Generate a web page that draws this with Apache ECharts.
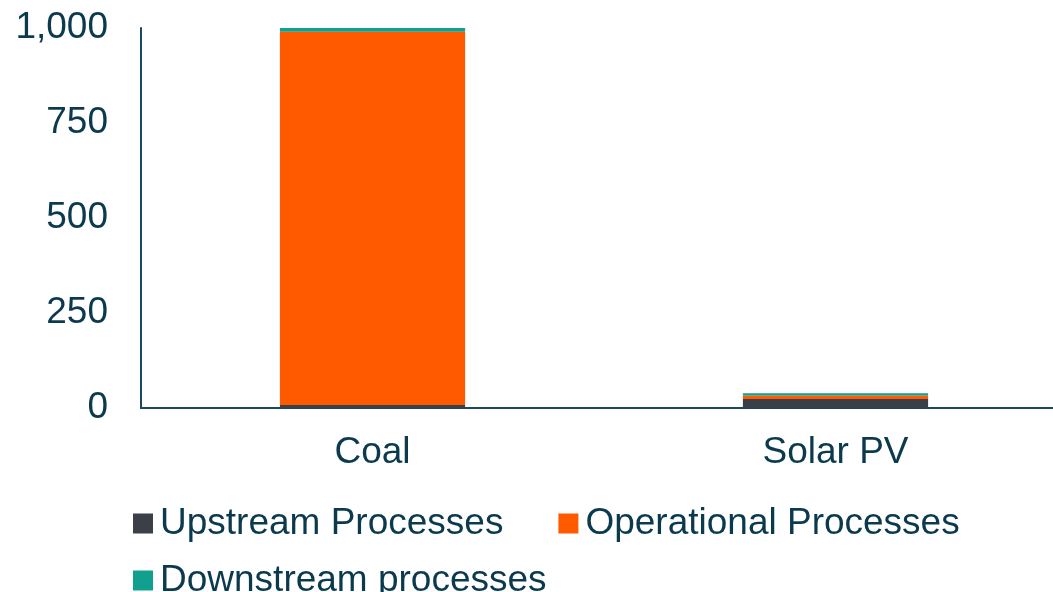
<!DOCTYPE html>
<html>
<head>
<meta charset="utf-8">
<script src="https://cdn.jsdelivr.net/npm/echarts@6/dist/echarts.min.js"></script>
<style>
  html, body { margin: 0; padding: 0; background: #ffffff; }
  #chart { width: 1053px; height: 592px; }
</style>
</head>
<body>
<div id="chart"></div>
<script>
// Lifecycle emissions by stage (g CO2e/kWh)
const categories = ['Coal', 'Solar PV'];
const upstream = [8, 24];
const operational = [982, 9];
const downstream = [10, 6];
const yTicks = { min: 0, max: 1000, interval: 250 };

const textColor = '#0b3a4e';
const fontFamily = 'Liberation Sans, Arial, sans-serif';
const fontSize = 37;

const chart = echarts.init(document.getElementById('chart'), null, { renderer: 'canvas' });

const barCommon = { type: 'bar', stack: 'total', barWidth: '40%' };

chart.setOption({
  animation: false,
  // plot area runs a little past the right edge of the canvas
  grid: { left: 141, width: 926, top: 28, bottom: 184, containLabel: false, outerBoundsMode: 'none' },
  legend: [
    {
      data: ['Upstream Processes', 'Operational Processes'],
      left: 128, top: 500,
      icon: 'rect', itemWidth: 20, itemHeight: 20, itemGap: 55,
      textStyle: { color: textColor, fontSize: fontSize, fontFamily: fontFamily, padding: [0, 0, 0, 2] }
    },
    {
      data: ['Downstream processes'],
      left: 128, top: 557,
      icon: 'rect', itemWidth: 20, itemHeight: 20,
      textStyle: { color: textColor, fontSize: fontSize, fontFamily: fontFamily, padding: [0, 0, 0, 2] }
    }
  ],
  xAxis: {
    type: 'category',
    data: categories,
    axisLine: { show: true, lineStyle: { color: '#1b4a5e', width: 2 } },
    axisTick: { show: false },
    axisLabel: { color: textColor, fontSize: fontSize, fontFamily: fontFamily, margin: 26 }
  },
  yAxis: {
    type: 'value',
    min: yTicks.min, max: yTicks.max, interval: yTicks.interval,
    axisLine: { show: true, lineStyle: { color: '#1b4a5e', width: 2 } },
    axisTick: { show: false },
    splitLine: { show: false },
    axisLabel: {
      color: textColor, fontSize: fontSize, fontFamily: fontFamily, margin: 33,
      padding: [6, 0, 0, 0],
      formatter: v => v.toLocaleString('en-US')
    }
  },
  series: [
    Object.assign({ name: 'Upstream Processes', data: upstream, itemStyle: { color: '#3a3f48' } }, barCommon),
    Object.assign({ name: 'Operational Processes', data: operational, itemStyle: { color: '#ff5a00' } }, barCommon),
    Object.assign({ name: 'Downstream processes', data: downstream, itemStyle: { color: '#12a08e' } }, barCommon)
  ]
});
</script>
</body>
</html>
